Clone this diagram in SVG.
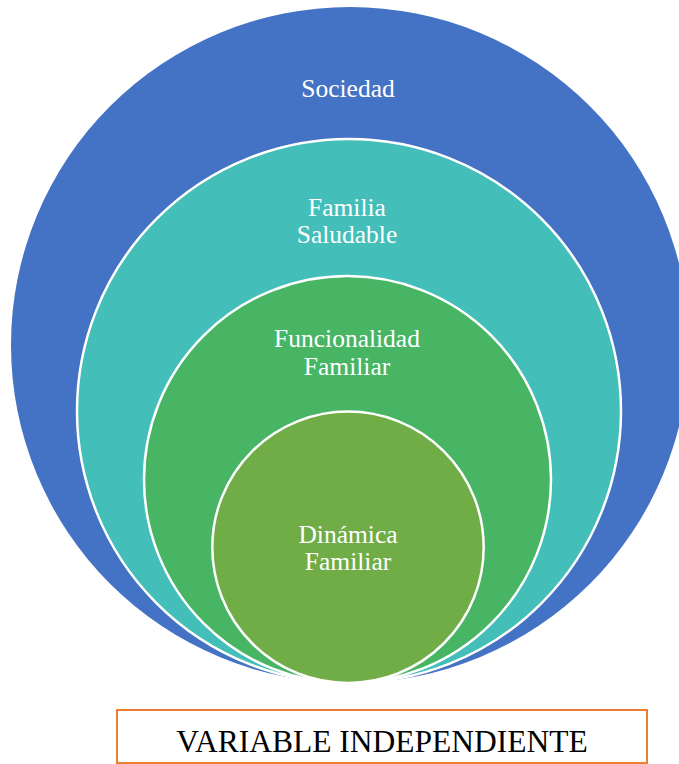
<svg xmlns="http://www.w3.org/2000/svg" width="679" height="764" viewBox="0 0 679 764">
<style>
.lbl{font-family:"Liberation Serif","Tinos","Times New Roman","DejaVu Serif",serif;font-size:25.5px;fill:#ffffff;text-anchor:middle}
.cap{font-family:"Liberation Serif","Tinos","Times New Roman","DejaVu Serif",serif;font-size:31.5px;fill:#000000;text-anchor:middle}
.ring{stroke:#ffffff;stroke-width:2.5}
</style>
<rect width="679" height="764" fill="#ffffff"/>
<g id="sociedad">
<ellipse cx="350" cy="345" rx="339" ry="338" fill="#4472C4"/>
<text class="lbl" x="348" y="97">Sociedad</text>
</g>
<g id="familia-saludable">
<circle class="ring" cx="349" cy="411" r="272" fill="#43BEB8"/>
<text class="lbl" x="347" y="216">Familia</text>
<text class="lbl" x="347" y="243">Saludable</text>
</g>
<g id="funcionalidad-familiar">
<circle class="ring" cx="347.5" cy="479.5" r="203.5" fill="#47B563"/>
<text class="lbl" x="347" y="347">Funcionalidad</text>
<text class="lbl" x="347" y="375">Familiar</text>
</g>
<g id="dinamica-familiar">
<circle class="ring" cx="348" cy="547.3" r="135.7" fill="#70AD47"/>
<text class="lbl" x="348" y="543">Dinámica</text>
<text class="lbl" x="348" y="570">Familiar</text>
</g>
<g id="connectors"></g>
<g id="variable-independiente">
<rect x="117" y="710" width="530" height="53" fill="#ffffff" stroke="#ED7D31" stroke-width="2"/>
<text class="cap" x="382" y="752">VARIABLE INDEPENDIENTE</text>
</g>
</svg>
